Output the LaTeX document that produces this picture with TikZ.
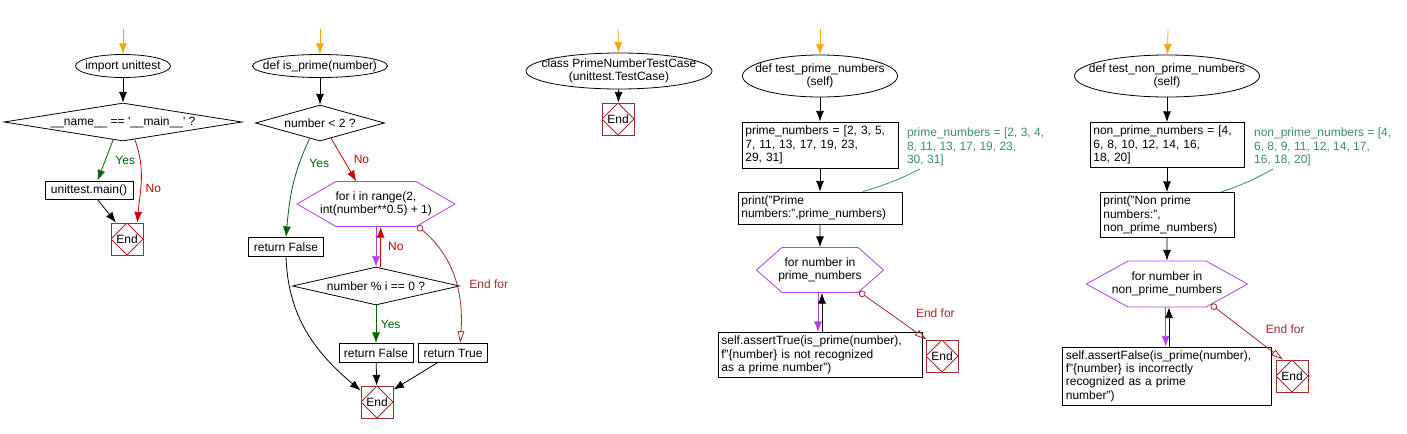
\documentclass[tikz,border=0pt]{standalone}
\usepackage{fontspec}
\setmainfont{Liberation Sans}
\usetikzlibrary{shapes.geometric, shapes.symbols, arrows.meta}
\definecolor{startorange}{HTML}{FFA500}
\definecolor{yesgreen}{HTML}{006400}
\definecolor{nored}{HTML}{CC0000}
\definecolor{loopviolet}{HTML}{B040F0}
\definecolor{endbrown}{HTML}{A52A2A}
\definecolor{notegreen}{HTML}{3C8C6E}
\tikzset{>={Latex[length=8pt,width=6pt]}}
\tikzset{
  term/.style={ellipse, draw, inner sep=-40pt, align=center},
  decide/.style={diamond, draw, inner sep=-60pt, align=center},
  stmt/.style={rectangle, draw, inner xsep=2.5pt, inner ysep=2pt, align=left},
  forhex/.style={signal, signal to=east and west, signal pointer angle=#1, draw=loopviolet, inner xsep=-40pt, inner ysep=-10pt, align=center},
  endbox/.style={rectangle, draw=endbrown, minimum size=24pt, inner sep=0pt,
    path picture={\draw[endbrown] (path picture bounding box.north) -- (path picture bounding box.east) -- (path picture bounding box.south) -- (path picture bounding box.west) -- cycle;}},
  notetext/.style={text=notegreen, align=left, inner sep=2pt, anchor=north west},
  startarrow/.style={->, startorange},
  endfor/.style={endbrown, {Circle[open,length=5pt]}-{Triangle[open,length=9pt,width=5pt]}}
}

\begin{document}
\begin{tikzpicture}[x=0.75pt, y=-0.75pt, semithick, font=\fontsize{9}{10}\selectfont]
    \useasboundingbox (0,0) rectangle (1407,433);

    \coordinate (s1) at (123,29);
    \node[term, minimum width=71.25pt, minimum height=17.25pt] (imp) at (123,66) {import unittest};
    \node[decide, minimum width=178.5pt, minimum height=28.5pt] (ifmain) at (123,122) {\_\_name\_\_ == \textquotesingle\_\_main\_\_\textquotesingle\ ?};
    \node[stmt, minimum width=66pt, minimum height=13.5pt] (runmain) at (89,190) {unittest.main()};
    \node[endbox] (end1) at (127,239) {End};
    \draw[startarrow] (s1) -- (imp);
    \draw[->] (imp) -- (ifmain);
    \draw[->, yesgreen] (ifmain.241) -- node[right, xshift=4pt] {Yes} (runmain.48);
    \draw[->, nored] (ifmain.304) to[out=-70, in=85] node[right, pos=0.6] {No} (end1.58);
    \draw[->] (runmain.-48) -- (end1.124);

    \coordinate (s2) at (320,29);
    \node[term, minimum width=101.25pt, minimum height=17.25pt] (isprime) at (320,66) {def is\_prime(number)};
    \node[decide, minimum width=96.75pt, minimum height=27pt] (lesstwo) at (320,123) {number < 2 ?};
    \node[forhex=60, minimum width=118.5pt, minimum height=33.75pt] (rangeloop) at (376,204) {for i in range(2,\\int(number**0.5) + 1)};
    \node[stmt, minimum width=56.25pt, minimum height=14.25pt] (retfalse1) at (286,247) {return False};
    \node[decide, minimum width=125.25pt, minimum height=28.5pt] (divides) at (376,286) {number \% i == 0 ?};
    \node[stmt, minimum width=55.5pt, minimum height=14.25pt] (retfalse2) at (376,353) {return False};
    \node[stmt, minimum width=51.75pt, minimum height=14.25pt] (rettrue) at (453,353) {return True};
    \node[endbox] (end2) at (377,402) {End};
    \draw[startarrow] (s2) -- (isprime);
    \draw[->] (isprime) -- (lesstwo);
    \draw[->, yesgreen] (lesstwo.236) to[out=-115, in=85] node[right, pos=0.25, xshift=4pt] {Yes} (retfalse1.north);
    \draw[->, nored] (lesstwo.306) -- node[right, xshift=4pt] {No} (rangeloop.131);
    \draw[->, loopviolet] (rangeloop.south) -- (divides.north);
    \draw[->, nored] ([xshift=3.5pt]divides.north) -- node[right, xshift=2pt] {No} ([xshift=3.5pt]rangeloop.south);
    \draw[->, yesgreen] (divides) -- node[right] {Yes} (retfalse2);
    \draw[endfor] (rangeloop.332) to[out=-40, in=86] node[right, pos=0.55, xshift=6.5pt] {End for} (rettrue.54);
    \draw[->] (retfalse1.south) to[out=-88, in=140] (end2.145);
    \draw[->] (retfalse2) -- (end2);
    \draw[->] (rettrue.212) -- (end2.37);

    \coordinate (s3) at (618,29);
    \node[term, minimum width=139.5pt, minimum height=27pt] (testcase) at (619,71) {class PrimeNumberTestCase\\(unittest.TestCase)};
    \node[endbox] (end3) at (618,119) {End};
    \draw[startarrow] (s3) -- (testcase);
    \draw[->] (testcase) -- (end3);

    \coordinate (s4) at (820,29);
    \node[term, minimum width=116.25pt, minimum height=31.5pt] (testprime) at (820,76) {def test\_prime\_numbers\\(self)};
    \node[stmt, text width=112pt, minimum height=34.5pt] (primelist) at (820,145) {prime\_numbers = [2, 3, 5,\\7, 11, 13, 17, 19, 23,\\29, 31]};
    \node[notetext] (primenote) at (904,125) {prime\_numbers = [2, 3, 4,\\8, 11, 13, 17, 19, 23,\\30, 31]};
    \node[stmt, text width=118pt, minimum height=24pt] (printprime) at (820,208) {print("Prime\\numbers:",prime\_numbers)};
    \node[forhex=83, minimum width=95.25pt, minimum height=33.75pt] (primeloop) at (820,270) {for number in\\prime\_numbers};
    \node[stmt, text width=148pt, minimum height=33.75pt] (asserttrue) at (820,355) {self.assertTrue(is\_prime(number),\\f"\{number\} is not recognized\\as a prime number")};
    \node[endbox] (end4) at (942,356) {End};
    \draw[startarrow] (s4) -- (testprime);
    \draw[->] (testprime) -- (primelist);
    \draw[->] (primelist) -- (printprime);
    \draw[->] (printprime) -- (primeloop);
    \draw[notegreen] ([xshift=12pt]primenote.south west) to[bend left=5] (printprime.21);
    \draw[->, loopviolet] ([xshift=-1.5pt]primeloop.south) -- ([xshift=-1.5pt]asserttrue.north);
    \draw[->] ([xshift=1.5pt]asserttrue.north) -- ([xshift=1.5pt]primeloop.south);
    \draw[endfor] (primeloop.331) -- node[above right, pos=0.65, xshift=6pt] {End for} (end4.133);

    \coordinate (s5) at (1168,29);
    \node[term, minimum width=138.75pt, minimum height=31.5pt] (testnonprime) at (1167,76) {def test\_non\_prime\_numbers\\(self)};
    \node[stmt, text width=110.5pt, minimum height=33.75pt] (nonprimelist) at (1167,145) {non\_prime\_numbers = [4,\\6, 8, 10, 12, 14, 16,\\18, 20]};
    \node[notetext] (nonprimenote) at (1251,125) {non\_prime\_numbers = [4,\\6, 8, 9, 11, 12, 14, 17,\\16, 18, 20]};
    \node[stmt, text width=95.5pt, minimum height=33.75pt] (printnonprime) at (1167,215) {print("Non prime\\numbers:",\\non\_prime\_numbers)};
    \node[forhex=58, minimum width=120.75pt, minimum height=34.5pt] (nonprimeloop) at (1167,284) {for number in\\non\_prime\_numbers};
    \node[stmt, text width=151.75pt, minimum height=43.5pt] (assertfalse) at (1167,376) {self.assertFalse(is\_prime(number),\\f"\{number\} is incorrectly\\recognized as a prime\\number")};
    \node[endbox] (end5) at (1292,376) {End};
    \draw[startarrow] (s5) -- (testnonprime);
    \draw[->] (testnonprime) -- (nonprimelist);
    \draw[->] (nonprimelist) -- (printnonprime);
    \draw[->] (printnonprime) -- (nonprimeloop);
    \draw[notegreen] ([xshift=16.5pt]nonprimenote.south west) to[bend left=5] (printnonprime.23);
    \draw[->, loopviolet] ([xshift=-1pt]nonprimeloop.south) -- ([xshift=-1pt]assertfalse.north);
    \draw[->] ([xshift=1.5pt]assertfalse.north) -- ([xshift=1.5pt]nonprimeloop.south);
    \draw[endfor] (nonprimeloop.335) -- node[above right, pos=0.62, xshift=4pt] {End for} (end5.119);
\end{tikzpicture}
\end{document}
